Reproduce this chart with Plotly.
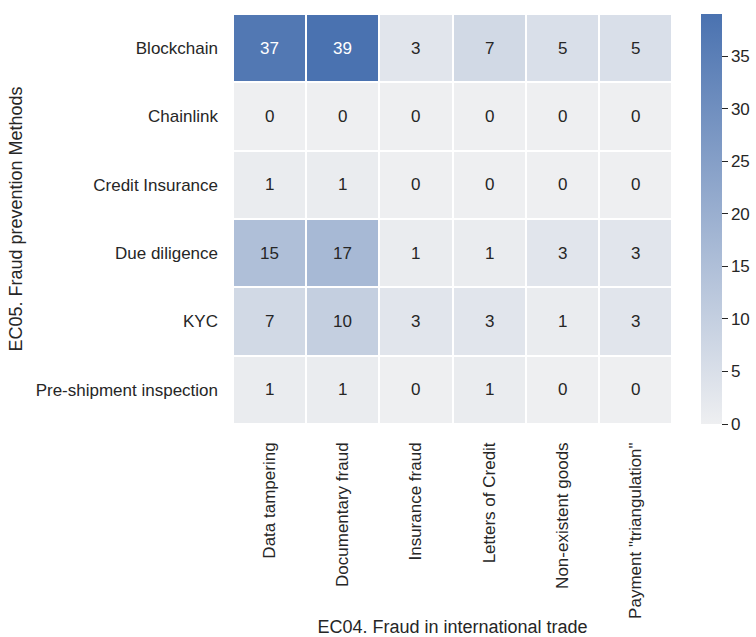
import plotly.graph_objects as go

# Cross-tabulation: fraud prevention methods (rows) vs fraud types (columns)
methods = ["Blockchain", "Chainlink", "Credit Insurance", "Due diligence", "KYC",
           "Pre-shipment inspection"]
fraud_types = ["Data tampering", "Documentary fraud", "Insurance fraud",
               "Letters of Credit", "Non-existent goods", "Payment \"triangulation\""]

blockchain = [37, 39, 3, 7, 5, 5]
chainlink = [0, 0, 0, 0, 0, 0]
credit_insurance = [1, 1, 0, 0, 0, 0]
due_diligence = [15, 17, 1, 1, 3, 3]
kyc = [7, 10, 3, 3, 1, 3]
pre_shipment = [1, 1, 0, 1, 0, 0]

counts = [blockchain, chainlink, credit_insurance, due_diligence, kyc, pre_shipment]
zmax = max(max(r) for r in counts)

font_family = "Liberation Sans, Arial, sans-serif"
dark = "#262626"

fig = go.Figure(
    go.Heatmap(
        z=counts,
        x=fraud_types,
        y=methods,
        zmin=0,
        zmax=zmax,
        colorscale=[[0, "#EEEFF1"], [1, "#4A72B0"]],
        xgap=2,
        ygap=2,
        hoverinfo="skip",
        colorbar=dict(
            x=1.066,
            xanchor="left",
            xpad=0,
            y=0.5,
            yanchor="middle",
            ypad=0,
            len=1,
            lenmode="fraction",
            thickness=21,
            outlinewidth=0,
            ticks="outside",
            ticklen=6,
            tickwidth=1,
            tickcolor=dark,
            tickvals=[0, 5, 10, 15, 20, 25, 30, 35],
            tickfont=dict(family=font_family, size=17, color=dark),
        ),
    )
)

# Cell value labels, white on the darkest cells
annotations = []
for row_name, row in zip(methods, counts):
    for col_name, v in zip(fraud_types, row):
        annotations.append(dict(
            x=col_name, y=row_name, text=str(v), showarrow=False,
            font=dict(family=font_family, size=17,
                      color="white" if v > zmax * 0.6 else dark),
        ))

fig.update_layout(
    width=756,
    height=637,
    margin=dict(l=233, r=84, t=14, b=213, autoexpand=False),
    paper_bgcolor="white",
    plot_bgcolor="white",
    annotations=annotations,
    font=dict(family=font_family, color=dark),
    xaxis=dict(
        title=dict(text="EC04. Fraud in international trade",
                   font=dict(size=18, color=dark), standoff=4),
        tickangle=-90,
        tickfont=dict(size=17, color=dark),
        showgrid=False, zeroline=False, ticks="", ticklabelstandoff=14,
    ),
    yaxis=dict(
        title=dict(text="EC05. Fraud prevention Methods",
                   font=dict(size=18, color=dark), standoff=8),
        autorange="reversed",
        tickfont=dict(size=17, color=dark),
        showgrid=False, zeroline=False, ticks="", ticklabelstandoff=14,
    ),
)

fig.write_html("out.html")
